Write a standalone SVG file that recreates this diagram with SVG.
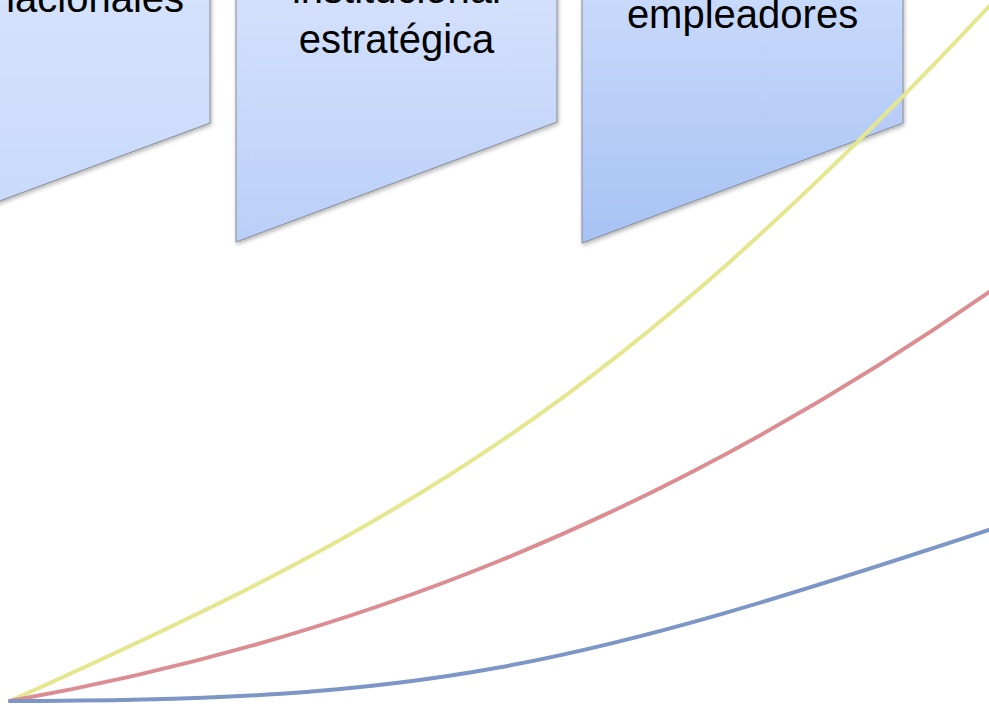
<svg xmlns="http://www.w3.org/2000/svg" width="989" height="706" viewBox="0 0 989 706">
  <style>
    .shape { stroke: #858b96; stroke-width: 1; filter: url(#shadow); }
    .label { font-family: "Liberation Sans", Arial, sans-serif; font-size: 40px; fill: #000; text-anchor: middle; }
    .curve { fill: none; stroke-width: 4; stroke-linecap: round; }
  </style>
  <defs>
    <filter id="shadow" x="-10%" y="-10%" width="130%" height="130%">
      <feDropShadow dx="1" dy="2" stdDeviation="2" flood-color="#000" flood-opacity="0.3"/>
    </filter>
    <linearGradient id="g1" x1="0" y1="0" x2="0" y2="1">
      <stop offset="0" stop-color="#d5e2fc"/>
      <stop offset="1" stop-color="#c6d8fa"/>
    </linearGradient>
    <linearGradient id="g2" x1="0" y1="0" x2="0" y2="1">
      <stop offset="0" stop-color="#d4e1fc"/>
      <stop offset="1" stop-color="#bacff8"/>
    </linearGradient>
    <linearGradient id="g3" x1="0" y1="0" x2="0" y2="1">
      <stop offset="0" stop-color="#c9dafb"/>
      <stop offset="1" stop-color="#a7c2f4"/>
    </linearGradient>
  </defs>

  <g id="node-internacionales">
    <polygon class="shape" fill="url(#g1)" points="-111,-10 210,-10 210,123 -111,242"/>
    <text class="label" x="49.5" y="12">internacionales</text>
  </g>

  <g id="node-estrategica">
    <polygon class="shape" fill="url(#g2)" points="236,-10 557,-10 557,122 236,242"/>
    <text class="label" x="396.5" y="3">institucional</text>
    <text class="label" x="396.5" y="53">estratégica</text>
  </g>

  <g id="node-empleadores">
    <polygon class="shape" fill="url(#g3)" points="582,-10 903,-10 903,123 582,243"/>
    <text class="label" x="742.5" y="28">empleadores</text>
  </g>

  <g id="connectors">
    <path class="curve" stroke="#e4e78e" d="M10,701 C390,530 609,414 995,0"/>
    <path class="curve" stroke="#dc8d91" d="M10,701 C340,642 659,523 995,288"/>
    <path class="curve" stroke="#7c96c6" d="M10,701 C430,701 569,668.6 995,528"/>
  </g>
</svg>
